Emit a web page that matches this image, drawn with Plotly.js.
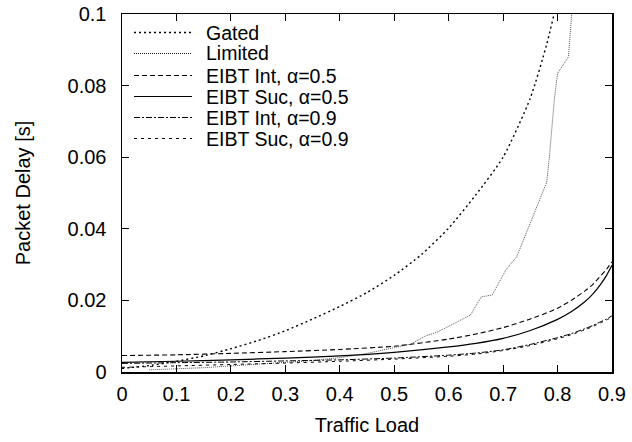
<!DOCTYPE html>
<html>
<head>
<meta charset="utf-8">
<script src="https://cdn.plot.ly/plotly-3.0.1.min.js"></script>
<style>html,body{margin:0;padding:0;background:#fff;}#chart{width:632px;height:442px;}</style>
</head>
<body>
<div id="chart"></div>
<script>
// Data
const seriesNames = ["Gated", "Limited", "EIBT Int, α=0.5", "EIBT Suc, α=0.5", "EIBT Int, α=0.9", "EIBT Suc, α=0.9"];

const gatedLoad  = [0, 0.05, 0.1, 0.15, 0.2, 0.25, 0.3, 0.35, 0.4, 0.45, 0.5, 0.55, 0.6, 0.65, 0.7, 0.75, 0.78, 0.8, 0.81];
const gatedDelay = [0.001, 0.0018, 0.003, 0.0045, 0.0065, 0.0088, 0.0115, 0.0148, 0.0183, 0.0222, 0.0270, 0.0328, 0.0402, 0.0495, 0.0600, 0.0765, 0.0915, 0.104, 0.11];

const limitedLoad  = [0.05, 0.1, 0.15, 0.2, 0.25, 0.3, 0.35, 0.4, 0.45, 0.5, 0.53, 0.56, 0.58, 0.64, 0.66, 0.68, 0.705, 0.725, 0.77, 0.78, 0.785, 0.794, 0.80, 0.82, 0.826, 0.827];
const limitedDelay = [0.0006, 0.0008, 0.0012, 0.0017, 0.0022, 0.0027, 0.0032, 0.004, 0.0052, 0.0068, 0.0078, 0.0102, 0.0112, 0.0159, 0.021, 0.0215, 0.0285, 0.0322, 0.049, 0.053, 0.060, 0.076, 0.0834, 0.088, 0.1, 0.11];

const eibtLoad   = [0, 0.1, 0.2, 0.3, 0.4, 0.5, 0.6, 0.65, 0.7, 0.75, 0.8, 0.825, 0.85, 0.865, 0.88, 0.89, 0.9];
const int05Delay = [0.0046, 0.0048, 0.0052, 0.0057, 0.0063, 0.0072, 0.0092, 0.0106, 0.0124, 0.0148, 0.0178, 0.0200, 0.0226, 0.0245, 0.0270, 0.0287, 0.0308];
const suc05Delay = [0.0027, 0.0030, 0.0034, 0.0039, 0.0045, 0.0055, 0.0070, 0.0080, 0.0094, 0.0116, 0.0147, 0.0168, 0.0196, 0.0218, 0.0247, 0.0270, 0.0298];
const int09Delay = [0.0024, 0.0026, 0.0028, 0.0031, 0.0034, 0.0039, 0.0047, 0.0053, 0.0062, 0.0077, 0.0096, 0.0107, 0.0121, 0.0130, 0.0141, 0.0148, 0.0157];
const suc09Delay = [0.0013, 0.0017, 0.0021, 0.0025, 0.0030, 0.0036, 0.0044, 0.0050, 0.0060, 0.0074, 0.0093, 0.0104, 0.0118, 0.0127, 0.0138, 0.0145, 0.0154];

const xTicks = [0, 0.1, 0.2, 0.3, 0.4, 0.5, 0.6, 0.7, 0.8, 0.9];
const xTickText = ["0", "0.1", "0.2", "0.3", "0.4", "0.5", "0.6", "0.7", "0.8", "0.9"];
const yTicks = [0, 0.02, 0.04, 0.06, 0.08, 0.1];
const yTickText = ["0", "0.02", "0.04", "0.06", "0.08", "0.1"];

const styles = [
  {color: "#000", width: 1.4, dash: "2px,3px", shape: "spline"},
  {color: "#555", width: 1, dash: "1px,1px", shape: "linear"},
  {color: "#000", width: 1.1, dash: "5px,3px", shape: "spline"},
  {color: "#000", width: 1.2, dash: "solid", shape: "spline"},
  {color: "#000", width: 1, dash: "6px,2px,2px,2px", shape: "spline"},
  {color: "#000", width: 1, dash: "3px,4px", shape: "spline"}
];
const xs = [gatedLoad, limitedLoad, eibtLoad, eibtLoad, eibtLoad, eibtLoad];
const ys = [gatedDelay, limitedDelay, int05Delay, suc05Delay, int09Delay, suc09Delay];

const traces = seriesNames.map((n, i) => ({
  type: "scatter", mode: "lines", name: n, x: xs[i], y: ys[i],
  line: {color: styles[i].color, width: styles[i].width, dash: styles[i].dash, shape: styles[i].shape, smoothing: 0.6},
  showlegend: false
}));

// Legend drawn inside the plot area (paper coordinates of the plot domain)
const plotL = 122, plotR = 612, plotT = 14, plotB = 372;
const px2x = p => (p - plotL) / (plotR - plotL);
const px2y = p => (plotB - p) / (plotB - plotT);
const legendRowsPx = [32.5, 53.5, 75.5, 96.5, 117.5, 138.5];
const shapes = [], annotations = [];
seriesNames.forEach((n, i) => {
  const yy = px2y(legendRowsPx[i]);
  const s = styles[i];
  shapes.push({type: "line", xref: "paper", yref: "paper", x0: px2x(134), x1: px2x(192), y0: yy, y1: yy,
               line: {color: i === 1 ? "#222" : s.color, width: s.width, dash: s.dash}});
  annotations.push({xref: "paper", yref: "paper", x: px2x(204), y: yy, xanchor: "left", yanchor: "middle",
                    text: n, showarrow: false, font: {family: "Liberation Sans, Arial, sans-serif", size: 19.5, color: "#000"}});
});

const font = {family: "Liberation Sans, Arial, sans-serif", size: 20, color: "#000"};

const layout = {
  width: 632, height: 442,
  margin: {l: plotL, r: 632 - plotR, t: plotT, b: 442 - plotB, pad: 0},
  paper_bgcolor: "#fff", plot_bgcolor: "#fff",
  font: font,
  showlegend: false,
  shapes: shapes,
  annotations: annotations,
  xaxis: {
    range: [0, 0.9], tickvals: xTicks, ticktext: xTickText,
    ticks: "inside", ticklen: 7, tickwidth: 1, tickcolor: "#000",
    showline: true, linecolor: "#000", linewidth: 1.5, mirror: "allticks",
    showgrid: false, zeroline: false, ticklabelstandoff: 3,
    title: {text: "Traffic Load", font: font, standoff: 14},
    tickfont: font
  },
  yaxis: {
    range: [0, 0.1], tickvals: yTicks, ticktext: yTickText,
    ticks: "inside", ticklen: 7, tickwidth: 1, tickcolor: "#000",
    showline: true, linecolor: "#000", linewidth: 1.5, mirror: "allticks",
    showgrid: false, zeroline: false, ticklabelstandoff: 10,
    title: {text: "Packet Delay [s]", font: font, standoff: 31},
    tickfont: font
  }
};

Plotly.newPlot("chart", traces, layout, {staticPlot: true, displayModeBar: false});
</script>
</body>
</html>
